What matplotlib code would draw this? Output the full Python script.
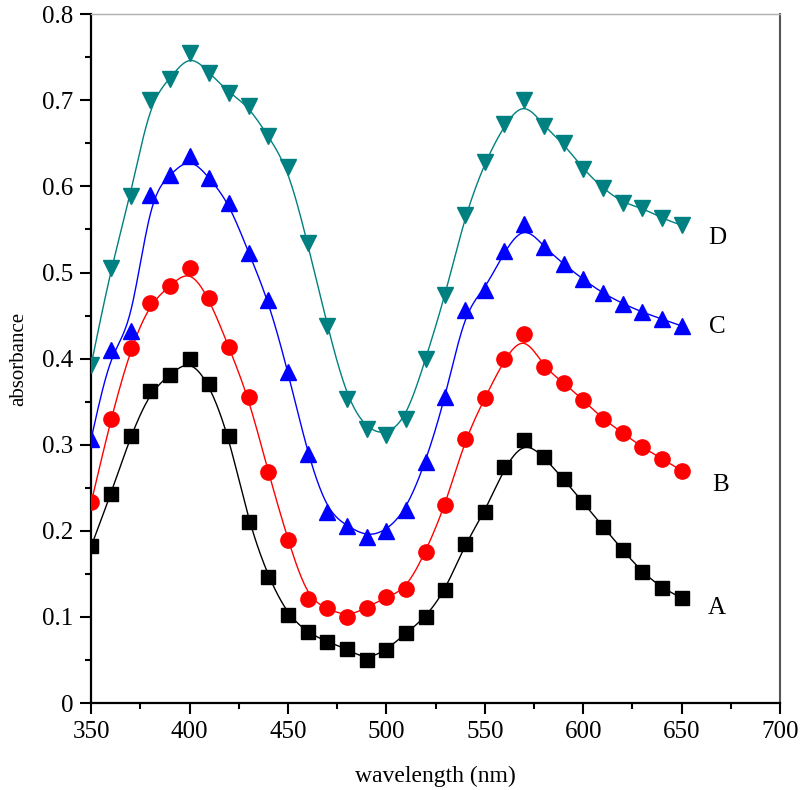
import numpy as np
import matplotlib; matplotlib.use("Agg")
import matplotlib.pyplot as plt
from matplotlib.ticker import MultipleLocator, FuncFormatter

plt.rcParams["font.family"] = ["Liberation Serif", "DejaVu Serif"]

wavelength = np.arange(350, 651, 10)
abs_a = [0.182, 0.243, 0.310, 0.362, 0.381, 0.400, 0.371, 0.310, 0.210, 0.146, 0.102,
         0.082, 0.071, 0.063, 0.050, 0.062, 0.081, 0.100, 0.131, 0.185, 0.222,
         0.274, 0.305, 0.286, 0.260, 0.233, 0.205, 0.178, 0.152, 0.134, 0.122]
abs_b = [0.233, 0.330, 0.412, 0.465, 0.484, 0.505, 0.470, 0.413, 0.355, 0.268, 0.189,
         0.121, 0.110, 0.100, 0.111, 0.123, 0.132, 0.176, 0.230, 0.307, 0.354,
         0.400, 0.429, 0.390, 0.372, 0.352, 0.330, 0.314, 0.297, 0.284, 0.270]
abs_c = [0.307, 0.410, 0.432, 0.590, 0.613, 0.635, 0.610, 0.581, 0.523, 0.468, 0.385,
         0.289, 0.222, 0.206, 0.193, 0.200, 0.224, 0.280, 0.355, 0.457, 0.480,
         0.525, 0.556, 0.530, 0.510, 0.492, 0.476, 0.464, 0.454, 0.446, 0.438]
abs_d = [0.393, 0.505, 0.589, 0.700, 0.725, 0.755, 0.732, 0.709, 0.693, 0.658, 0.622,
         0.534, 0.438, 0.353, 0.318, 0.311, 0.330, 0.400, 0.474, 0.567, 0.628,
         0.672, 0.700, 0.670, 0.650, 0.620, 0.598, 0.581, 0.575, 0.563, 0.555]
labels = ["A", "B", "C", "D"]
label_pos = [(668, 0.111), (670, 0.253), (668, 0.437), (668, 0.540)]


def bspline(x, y, n=20):
    # uniform cubic B-spline with phantom end points (passes through ends)
    def pad(p):
        p = np.asarray(p, float)
        return np.concatenate([[2*p[0]-p[1]], p, [2*p[-1]-p[-2]]])
    px, py = pad(x), pad(y)
    t = np.linspace(0, 1, n, endpoint=False)
    b0 = (1-t)**3/6; b1 = (3*t**3-6*t**2+4)/6
    b2 = (-3*t**3+3*t**2+3*t+1)/6; b3 = t**3/6
    xs, ys = [], []
    for i in range(len(px)-3):
        xs.append(b0*px[i]+b1*px[i+1]+b2*px[i+2]+b3*px[i+3])
        ys.append(b0*py[i]+b1*py[i+1]+b2*py[i+2]+b3*py[i+3])
    xs.append([x[-1]]); ys.append([y[-1]])
    return np.concatenate(xs), np.concatenate(ys)


fig = plt.figure(figsize=(8, 7.9), dpi=100)
ax = fig.add_axes([0.114, 0.110, 0.861, 0.872])

styles = [("black", "s", 10), ("#ff0000", "o", 11), ("#0000ff", "^", 12), ("#008080", "v", 12)]
for ys, (col, mk, ms) in zip([abs_a, abs_b, abs_c, abs_d], styles):
    sx, sy = bspline(wavelength, ys)
    ax.plot(sx, sy, color=col, lw=1.0, zorder=2)
    ax.plot(wavelength, ys, ls="none", marker=mk, ms=ms, color=col, mec=col, zorder=3)

for lab, (lx, ly) in zip(labels, label_pos):
    ax.text(lx, ly, lab, fontsize=18, ha="center", va="center")

ax.set_xlim(350, 700); ax.set_ylim(0, 0.8)
ax.xaxis.set_major_locator(MultipleLocator(50)); ax.xaxis.set_minor_locator(MultipleLocator(25))
ax.yaxis.set_major_locator(MultipleLocator(0.1)); ax.yaxis.set_minor_locator(MultipleLocator(0.05))
ax.yaxis.set_major_formatter(FuncFormatter(lambda v, p: "0" if abs(v) < 1e-9 else f"{v:.1f}"))
ax.tick_params(which="major", direction="out", length=8, width=1.5, labelsize=18, pad=5)
ax.tick_params(which="minor", direction="out", length=4, width=1.5)
ax.tick_params(top=False, right=False, which="both")
ax.spines["left"].set_linewidth(1.6); ax.spines["bottom"].set_linewidth(1.6)
ax.spines["top"].set_color("#b0b0b0"); ax.spines["top"].set_linewidth(1.0)
ax.spines["right"].set_color("#555555"); ax.spines["right"].set_linewidth(1.5)
ax.set_xlabel("wavelength (nm)", fontsize=17, labelpad=16)
ax.set_ylabel("absorbance", fontsize=15, labelpad=10)

plt.savefig("out.png", dpi=100)
plt.close()
